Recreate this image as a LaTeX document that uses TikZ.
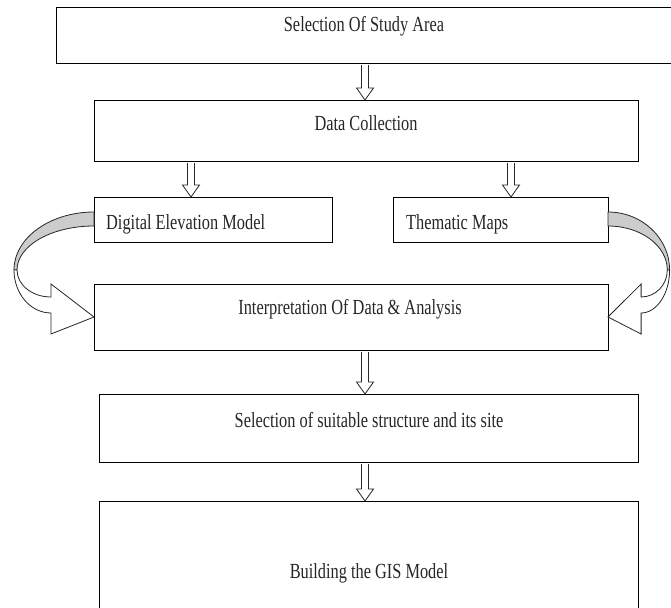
\documentclass[tikz,border=0pt]{standalone}
\usepackage{fontspec}
\setmainfont{Liberation Serif}[FakeStretch=0.76]
\usetikzlibrary{calc}
\tikzset{
  box/.style={draw=black, line width=1.4pt, fill=white, inner sep=0pt, anchor=north west},
  lbl/.style={inner sep=0pt, font=\fontsize{21.5}{25}\selectfont, text=black!85},
  blockarr/.style={draw=black!85, line width=0.8pt, fill=white},
  ribbonback/.style={draw=black!85, line width=0.8pt, fill=gray!40},
  ribbonfront/.style={draw=black!85, line width=0.8pt, fill=white}
}
\newcommand{\barrow}[2]{\draw[blockarr] let \p1=(#1), \p2=(#2) in
  (\x1-3.5pt,\y1-0.8pt) -- (\x1-3.5pt,\y2+12pt) -- (\x1-8.5pt,\y2+12pt) -- (\x1,\y2)
  -- (\x1+8.5pt,\y2+12pt) -- (\x1+3.5pt,\y2+12pt) -- (\x1+3.5pt,\y1-0.8pt);}
\begin{document}
\begin{tikzpicture}[x=1pt,y=-1pt]
\useasboundingbox (0,0) rectangle (671,607);
\clip (0,0) rectangle (671,607);
\fill[white] (0,0) rectangle (671,607);
% boxes
\node[box, minimum width=617pt, minimum height=56pt] (b1) at (56,7) {};
\node[box, minimum width=544pt, minimum height=61pt] (b2) at (94,100) {};
\node[box, minimum width=238pt, minimum height=45pt] (dem) at (94,197) {};
\node[box, minimum width=215pt, minimum height=45pt] (thm) at (393,197) {};
\node[box, minimum width=514pt, minimum height=66pt] (b3) at (94,284) {};
\node[box, minimum width=539pt, minimum height=68pt] (b4) at (99,394) {};
\node[box, minimum width=539pt, minimum height=140pt] (b5) at (99,501) {};
% texts
\node[lbl, anchor=base] (t1) at (364,32) {Selection Of Study Area};
\node[lbl, anchor=base] (t2) at (366,130) {Data Collection};
\node[lbl, anchor=base west] (tdem) at (106,229) {Digital Elevation Model};
\node[lbl, anchor=base west] (tthm) at (406,229) {Thematic Maps};
\node[lbl, anchor=base] (t3) at (350,314) {Interpretation Of Data \& Analysis};
\node[lbl, anchor=base] (t4) at (369,427) {Selection of suitable structure and its site};
\node[lbl, anchor=base] (t5) at (369,578) {Building the GIS Model};
% arrow columns
\coordinate (xm) at (365,0);
\coordinate (xl) at (191,0);
\coordinate (xr) at (511,0);
\barrow{b1.south -| xm}{b2.north -| xm}
\barrow{b2.south -| xl}{dem.north -| xl}
\barrow{b2.south -| xr}{thm.north -| xr}
\barrow{b3.south -| xm}{b4.north -| xm}
\barrow{b4.south -| xm}{b5.north -| xm}
% left curved arrow
\draw[ribbonback] (94,212) .. controls (50,212) and (14,238) .. (14,270) -- (17,270)
  .. controls (17,245.7) and (51.5,226) .. (94,226) -- cycle;
\draw[ribbonfront] (14,270) .. controls (14,293.7) and (30.6,313) .. (51,313) -- (51,334)
  -- (94,317) -- (51,284) -- (51,297) .. controls (32.2,297) and (17,284.9) .. (17,270) -- cycle;
% right curved arrow
\draw[ribbonback] (608,212) .. controls (641.9,212) and (669.6,238) .. (669.6,270) -- (667.3,270)
  .. controls (667.3,245.7) and (640.7,226) .. (608,226) -- cycle;
\draw[ribbonfront] (669.6,270) .. controls (669.6,293.7) and (656.8,313) .. (641.1,313) -- (641.1,334)
  -- (608,317) -- (641.1,284) -- (641.1,297) .. controls (655.6,297) and (667.3,284.9) .. (667.3,270) -- cycle;
\end{tikzpicture}
\end{document}
